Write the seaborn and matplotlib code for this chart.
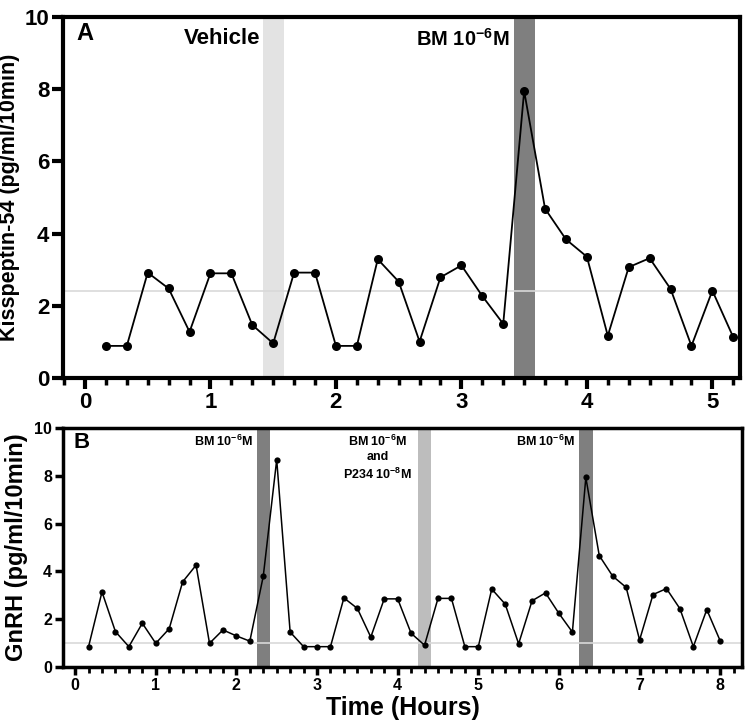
import numpy as np
import pandas as pd
import matplotlib
matplotlib.use('Agg')
import matplotlib.pyplot as plt
from matplotlib.ticker import MultipleLocator
import seaborn as sns

# Panel A - kisspeptin-54, 10 min samples
kiss_time = [i / 6 for i in range(1, 32)]
kiss_values = [0.89, 0.89, 2.92, 2.48, 1.28, 2.90, 2.90, 1.47, 0.96, 2.92,
               2.92, 0.89, 0.89, 3.29, 2.67, 1.01, 2.79, 3.12, 2.27, 1.50,
               7.95, 4.69, 3.84, 3.36, 1.17, 3.07, 3.32, 2.47, 0.89, 2.42,
               1.13]
kiss_baseline = 2.42

# Panel B - GnRH, 10 min samples
gnrh_time = [i / 6 for i in range(1, 49)]
gnrh_values = [0.85, 3.14, 1.48, 0.85, 1.83, 0.99, 1.60, 3.56, 4.26, 0.99,
               1.55, 1.30, 1.08, 3.80, 8.67, 1.46, 0.85, 0.85, 0.85, 2.89,
               2.45, 1.25, 2.85, 2.85, 1.41, 0.91, 2.87, 2.87, 0.85, 0.85,
               3.26, 2.63, 0.97, 2.77, 3.10, 2.24, 1.46, 7.93, 4.66, 3.80,
               3.33, 1.13, 3.03, 3.28, 2.44, 0.85, 2.40, 1.09]
gnrh_baseline = 0.99

# treatment windows (start, end, colour)
kiss_windows = [(1.417, 1.583, '#e3e3e3'), (3.417, 3.583, '#7f7f7f')]
gnrh_windows = [(2.25, 2.417, '#7f7f7f'), (4.25, 4.417, '#bdbdbd'),
                (6.25, 6.417, '#7f7f7f')]

df_a = pd.DataFrame({'time': kiss_time, 'value': kiss_values})
df_b = pd.DataFrame({'time': gnrh_time, 'value': gnrh_values})

sns.set_style('ticks')
plt.rcParams['font.family'] = ['Liberation Sans', 'DejaVu Sans']
plt.rcParams['font.weight'] = 'bold'
plt.rcParams['mathtext.fontset'] = 'custom'
plt.rcParams['mathtext.rm'] = 'Liberation Sans:bold'
plt.rcParams['mathtext.it'] = 'Liberation Sans:bold'
plt.rcParams['mathtext.bf'] = 'Liberation Sans:bold'
for key in ['text.color', 'axes.labelcolor', 'xtick.color', 'ytick.color',
            'axes.edgecolor']:
    plt.rcParams[key] = 'black'

fig = plt.figure(figsize=(7.52, 7.26), dpi=100)
ax1 = fig.add_axes([0.0838, 0.4793, 0.9002, 0.4973])
ax2 = fig.add_axes([0.0838, 0.0813, 0.9029, 0.3292])

# ---- panel A ----
for start, end, col in kiss_windows:
    ax1.axvspan(start, end, color=col, lw=0, zorder=0)
ax1.axhline(kiss_baseline, color='#d9d9d9', lw=1.2, zorder=1)
sns.lineplot(data=df_a, x='time', y='value', ax=ax1, color='black',
             marker='o', markersize=6.5, markeredgewidth=0, linewidth=1.3,
             zorder=3)
ax1.set_xlim(-0.175, 5.22)
ax1.set_ylim(0, 10)
ax1.xaxis.set_major_locator(MultipleLocator(1))
ax1.xaxis.set_minor_locator(MultipleLocator(1 / 6))
ax1.yaxis.set_major_locator(MultipleLocator(2))
ax1.tick_params(axis='both', which='major', width=3, length=8,
                labelsize=16, pad=2)
ax1.tick_params(axis='x', which='minor', width=2.5, length=5)
ax1.set_xlabel('')
ax1.set_ylabel('Kisspeptin-54 (pg/ml/10min)', fontsize=15.5,
               fontweight='bold', labelpad=3)
for sp in ax1.spines.values():
    sp.set_linewidth(3)
ax1.text(0.02, 0.955, 'A', transform=ax1.transAxes, fontsize=17,
         fontweight='bold', va='center', ha='left')
ax1.text(1.4, 9.4, 'Vehicle', fontsize=16, fontweight='bold',
         ha='right', va='center')
ax1.text(3.38, 9.4, r'BM 10$^{-6}$M', fontsize=14.5, fontweight='bold',
         ha='right', va='center')

# ---- panel B ----
for start, end, col in gnrh_windows:
    ax2.axvspan(start, end, color=col, lw=0, zorder=0)
ax2.axhline(gnrh_baseline, color='#d9d9d9', lw=1.2, zorder=1)
sns.lineplot(data=df_b, x='time', y='value', ax=ax2, color='black',
             marker='o', markersize=4.5, markeredgewidth=0, linewidth=1.1,
             zorder=3)
ax2.set_xlim(-0.15, 8.27)
ax2.set_ylim(0, 10)
ax2.xaxis.set_major_locator(MultipleLocator(1))
ax2.xaxis.set_minor_locator(MultipleLocator(1 / 6))
ax2.yaxis.set_major_locator(MultipleLocator(2))
ax2.tick_params(axis='both', which='major', width=2.5, length=6,
                labelsize=11.5, pad=2)
ax2.tick_params(axis='x', which='minor', width=2, length=4)
ax2.set_xlabel('Time (Hours)', fontsize=18, fontweight='bold', labelpad=2)
ax2.set_ylabel('GnRH (pg/ml/10min)', fontsize=17, fontweight='bold',
               labelpad=4)
for sp in ax2.spines.values():
    sp.set_linewidth(2.5)
ax2.text(0.015, 0.94, 'B', transform=ax2.transAxes, fontsize=16,
         fontweight='bold', va='center', ha='left')
ax2.text(2.2, 9.45, r'BM 10$^{-6}$M', fontsize=9, fontweight='bold',
         ha='right', va='center')
ax2.text(3.75, 8.75, 'BM 10$^{-6}$M\nand\nP234 10$^{-8}$M', fontsize=9,
         fontweight='bold', ha='center', va='center', linespacing=1.3)
ax2.text(6.2, 9.45, r'BM 10$^{-6}$M', fontsize=9, fontweight='bold',
         ha='right', va='center')

fig.savefig('out.png', dpi=100)
